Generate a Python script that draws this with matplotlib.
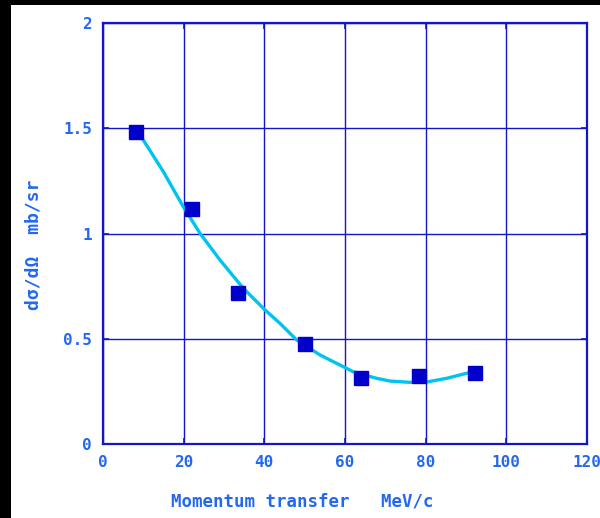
import matplotlib
matplotlib.use("Agg")
import matplotlib.pyplot as plt
from matplotlib.patches import Rectangle

# data
momentum = [8.2, 22.1, 33.5, 50.1, 64.0, 78.3, 92.2]
cross_section = [1.482, 1.116, 0.717, 0.475, 0.314, 0.323, 0.337]

# fitted curve as drawn in the reference
curve_x = [8.18, 9.99, 14.95, 19.91, 24.05, 29.01, 34.78, 40.16, 43.88, 48.02,
           53.80, 58.76, 62.06, 67.86, 71.16, 76.12, 79.83, 85.21, 90.17, 92.23]
curve_y = [1.482, 1.444, 1.294, 1.127, 1.001, 0.874, 0.740, 0.637, 0.573, 0.494,
           0.423, 0.375, 0.343, 0.312, 0.299, 0.293, 0.293, 0.312, 0.336, 0.344]

x_ticks = [0, 20, 40, 60, 80, 100, 120]
y_ticks = [0, 0.5, 1, 1.5, 2]
y_tick_labels = ["0", "0.5", "1", "1.5", "2"]

grid_col = "#1414c8"
text_col = "#2468f0"
mark_col = "#0000cc"
line_col = "#00c4f0"

fig = plt.figure(figsize=(6.0, 5.18), dpi=100)
fig.patches.append(Rectangle((0, 0), 11 / 600, 1, transform=fig.transFigure,
                             facecolor="black", edgecolor="none", zorder=0))
fig.patches.append(Rectangle((0, 1 - 5 / 518), 1, 5 / 518, transform=fig.transFigure,
                             facecolor="black", edgecolor="none", zorder=0))

ax = fig.add_axes([103 / 600, 74 / 518, 484 / 600, 421 / 518])
ax.plot(curve_x, curve_y, color=line_col, lw=2.4, zorder=3,
        solid_joinstyle="round", solid_capstyle="round")
ax.plot(momentum, cross_section, linestyle="none", marker="s", markersize=10,
        color=mark_col, zorder=4)

ax.set_xlim(0, 120)
ax.set_ylim(0, 2)
ax.set_xticks(x_ticks)
ax.set_yticks(y_ticks)
ax.set_yticklabels(y_tick_labels)
ax.grid(True, color=grid_col, lw=1.0)
ax.set_axisbelow(True)
for s in ax.spines.values():
    s.set_color(grid_col)
    s.set_linewidth(1.6)
ax.tick_params(direction="in", length=4, width=1.2, color=grid_col,
               top=True, right=True, labelcolor=text_col, labelsize=11.5, pad=8)
for lab in ax.get_xticklabels() + ax.get_yticklabels():
    lab.set_fontfamily("DejaVu Sans Mono")
    lab.set_fontweight("bold")

fig.text(302 / 600, 1 - 502 / 518, "Momentum transfer   MeV/c", ha="center", va="center",
         color=text_col, fontsize=12.5, fontweight="bold", family="DejaVu Sans Mono")
fig.text(33 / 600, 1 - 245 / 518, "dσ/dΩ  mb/sr", ha="center", va="center", rotation=90,
         color=text_col, fontsize=13, fontweight="bold", family="DejaVu Sans Mono")

fig.savefig("out.png", dpi=100)
